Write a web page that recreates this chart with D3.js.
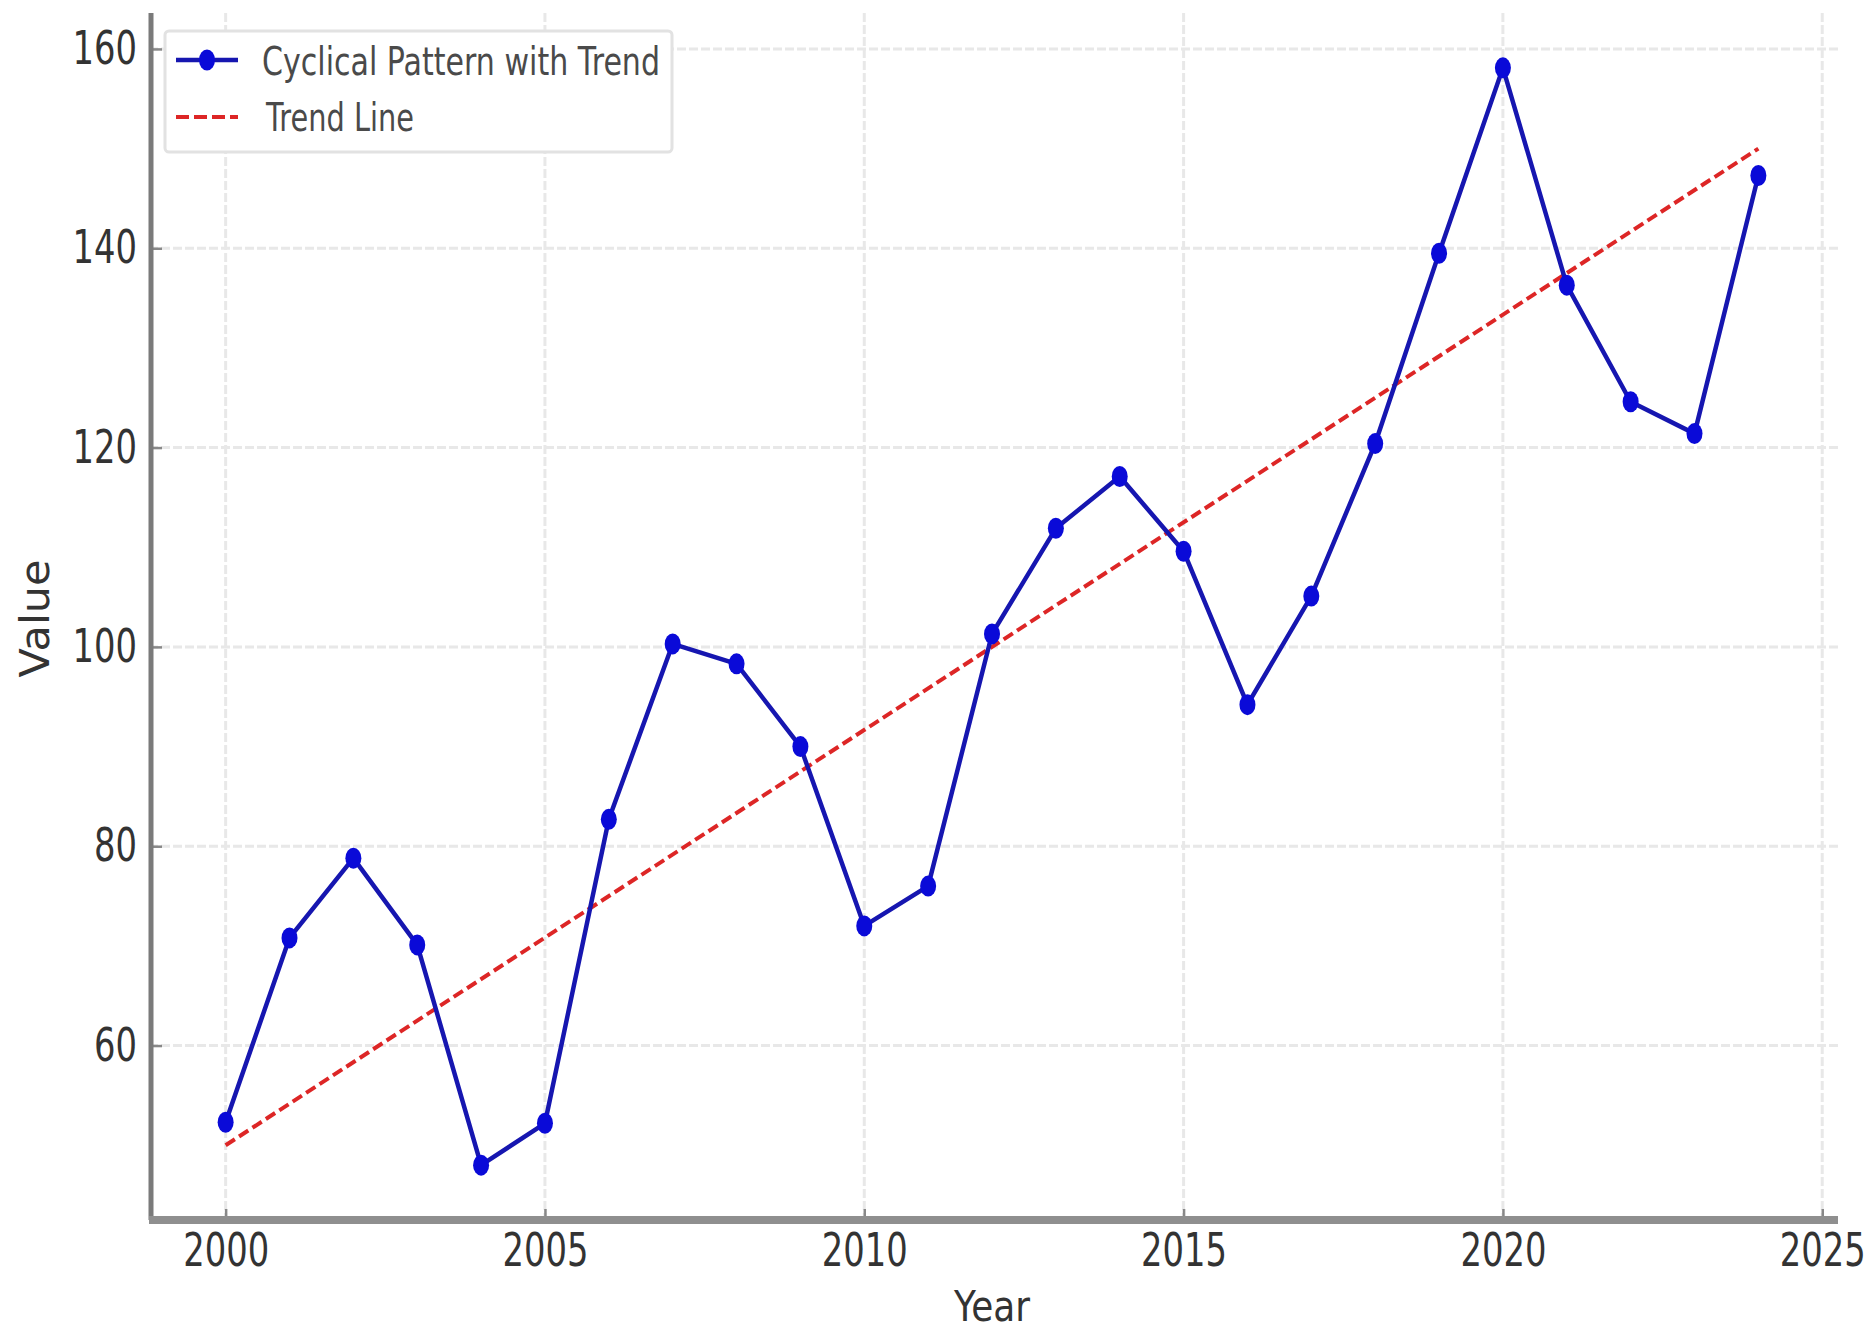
<!DOCTYPE html>
<html>
<head>
<meta charset="utf-8">
<script src="https://cdn.jsdelivr.net/npm/d3@7"></script>
<style>
  body { margin: 0; background: #fff; }
  text { font-family: "DejaVu Sans", sans-serif; }
</style>
</head>
<body>
<div id="chart-area"></div>
<script>
// data
const years = [2000, 2001, 2002, 2003, 2004, 2005, 2006, 2007, 2008, 2009, 2010, 2011, 2012,
  2013, 2014, 2015, 2016, 2017, 2018, 2019, 2020, 2021, 2022, 2023, 2024]
const values = [52.3, 70.8, 78.8, 70.1, 48.0, 52.2, 82.7, 100.3, 98.3, 90.0, 72.0, 76.0, 101.3,
  111.9, 117.1, 109.6, 94.2, 105.1, 120.4, 139.5, 158.1, 136.3, 124.6, 121.4, 147.3]
const trendYears = [2000, 2024]
const trendValues = [50, 150]
const xTicks = [2000, 2005, 2010, 2015, 2020, 2025]
const yTicks = [60, 80, 100, 120, 140, 160]
const legendLabels = ["Cyclical Pattern with Trend", "Trend Line"]

const W = 1872, H = 1331
const PLOT = { LEFT: 149, RIGHT: 1835, TOP: 13, BOTTOM: 1220 }

const svg = d3.select("#chart-area").append("svg")
  .attr("width", W)
  .attr("height", H)

// matplotlib style 5% margins
const xPad = (d3.max(years) - d3.min(years)) * 0.05
const allVals = values.concat(trendValues)
const yPad = (d3.max(allVals) - d3.min(allVals)) * 0.05

const x = d3.scaleLinear()
  .domain([d3.min(years) - xPad, d3.max(years) + xPad])
  .range([PLOT.LEFT, PLOT.RIGHT])

const y = d3.scaleLinear()
  .domain([d3.min(allVals) - yPad, d3.max(allVals) + yPad])
  .range([PLOT.BOTTOM, PLOT.TOP])

// grid
const grid = svg.append("g").attr("class", "grid")
grid.selectAll(".vgrid").data(xTicks).enter().append("line")
  .attr("x1", d => x(d)).attr("x2", d => x(d))
  .attr("y1", PLOT.TOP).attr("y2", PLOT.BOTTOM)
  .attr("stroke", "#e8e8e8").attr("stroke-width", 3)
  .attr("stroke-dasharray", "9,3")
grid.selectAll(".hgrid").data(yTicks).enter().append("line")
  .attr("x1", PLOT.LEFT).attr("x2", PLOT.RIGHT + 6)
  .attr("y1", d => y(d)).attr("y2", d => y(d))
  .attr("stroke", "#e8e8e8").attr("stroke-width", 3)
  .attr("stroke-dasharray", "9,3")

// axes
const DIGIT_W = 21.5

const xAxisGroup = svg.append("g")
  .attr("transform", `translate(0,${PLOT.BOTTOM})`)
  .call(d3.axisBottom(x).tickValues(xTicks).tickFormat(d3.format("d"))
    .tickSizeInner(-11).tickSizeOuter(0).tickPadding(13))
xAxisGroup.select(".domain").remove()
xAxisGroup.selectAll("line").attr("stroke", "#888").attr("stroke-width", 2.5)
xAxisGroup.selectAll("text")
  .attr("font-size", 46)
  .attr("fill", "#333")
  .attr("textLength", d => String(d).length * DIGIT_W)
  .attr("lengthAdjust", "spacingAndGlyphs")

const yAxisGroup = svg.append("g")
  .attr("transform", `translate(${PLOT.LEFT + 2},0)`)
  .call(d3.axisLeft(y).tickValues(yTicks)
    .tickSizeInner(-11).tickSizeOuter(0).tickPadding(14))
yAxisGroup.select(".domain").remove()
yAxisGroup.selectAll("line").attr("stroke", "#888").attr("stroke-width", 2.5)
yAxisGroup.selectAll("text")
  .attr("font-size", 46)
  .attr("fill", "#333")
  .attr("textLength", d => String(d).length * DIGIT_W)
  .attr("lengthAdjust", "spacingAndGlyphs")

// spines (left and bottom only)
svg.append("line")
  .attr("x1", PLOT.LEFT + 2).attr("x2", PLOT.LEFT + 2)
  .attr("y1", PLOT.TOP).attr("y2", PLOT.BOTTOM)
  .attr("stroke", "#7a7a7a").attr("stroke-width", 5)
svg.append("line")
  .attr("x1", PLOT.LEFT).attr("x2", PLOT.RIGHT + 3)
  .attr("y1", PLOT.BOTTOM).attr("y2", PLOT.BOTTOM)
  .attr("stroke", "#8f8f8f").attr("stroke-width", 8)

// axis labels
svg.append("text")
  .attr("x", (PLOT.LEFT + PLOT.RIGHT) / 2)
  .attr("y", 1321)
  .attr("text-anchor", "middle")
  .attr("font-size", 43)
  .attr("fill", "#333")
  .attr("textLength", 76)
  .attr("lengthAdjust", "spacingAndGlyphs")
  .text("Year")

svg.append("text")
  .attr("transform", `translate(49,${(PLOT.TOP + PLOT.BOTTOM) / 2 + 2}) rotate(-90)`)
  .attr("text-anchor", "middle")
  .attr("font-size", 40)
  .attr("fill", "#333")
  .attr("textLength", 118)
  .attr("lengthAdjust", "spacingAndGlyphs")
  .text("Value")

// trend line
const trendLine = d3.line()
  .x((d, i) => x(trendYears[i]))
  .y(d => y(d))
svg.append("path")
  .datum(trendValues)
  .attr("d", trendLine)
  .attr("fill", "none")
  .attr("stroke", "#dd2626")
  .attr("stroke-width", 4)
  .attr("stroke-dasharray", "11,5")

// cyclical series
const seriesLine = d3.line()
  .x((d, i) => x(years[i]))
  .y(d => y(d))
svg.append("path")
  .datum(values)
  .attr("d", seriesLine)
  .attr("fill", "none")
  .attr("stroke", "#1616b0")
  .attr("stroke-width", 4.5)
  .attr("stroke-linejoin", "round")

svg.selectAll(".dot").data(values).enter().append("ellipse")
  .attr("class", "dot")
  .attr("cx", (d, i) => x(years[i]))
  .attr("cy", d => y(d))
  .attr("rx", 8)
  .attr("ry", 10.5)
  .attr("fill", "#0a0ad8")

// legend
const legend = svg.append("g")
legend.append("rect")
  .attr("x", 165).attr("y", 31)
  .attr("width", 507).attr("height", 121)
  .attr("rx", 4)
  .attr("fill", "#fff")
  .attr("stroke", "#e2e2e2")
  .attr("stroke-width", 3)

legend.append("line")
  .attr("x1", 176).attr("x2", 238)
  .attr("y1", 60).attr("y2", 60)
  .attr("stroke", "#1616b0").attr("stroke-width", 4.5)
legend.append("ellipse")
  .attr("cx", 207).attr("cy", 60)
  .attr("rx", 8).attr("ry", 10.5)
  .attr("fill", "#0a0ad8")
legend.append("line")
  .attr("x1", 176).attr("x2", 238)
  .attr("y1", 117).attr("y2", 117)
  .attr("stroke", "#dd2626").attr("stroke-width", 4)
  .attr("stroke-dasharray", "13,5")

const legendLengths = [398, 148]
const legendY = [75, 131]
legend.selectAll(".ltext").data(legendLabels).enter().append("text")
  .attr("x", (d, i) => i === 0 ? 262 : 266)
  .attr("y", (d, i) => legendY[i])
  .attr("font-size", 39)
  .attr("fill", "#4a4a4a")
  .attr("textLength", (d, i) => legendLengths[i])
  .attr("lengthAdjust", "spacingAndGlyphs")
  .text(d => d)
</script>
</body>
</html>
